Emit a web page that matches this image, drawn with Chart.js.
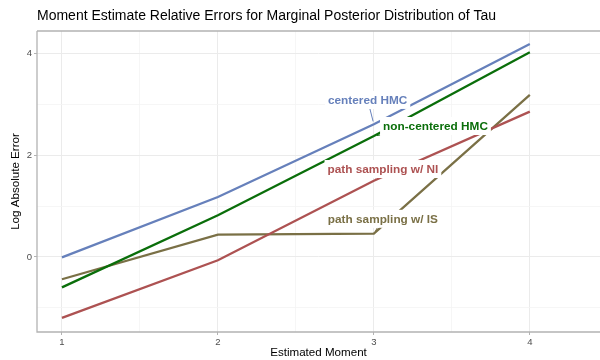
<!DOCTYPE html>
<html>
<head>
<meta charset="utf-8">
<script src="https://cdn.jsdelivr.net/npm/chart.js@4"></script>
<style>
  body { margin: 0; background: #fff; }
  #wrap { width: 600px; height: 360px; }
</style>
</head>
<body>
<div id="wrap"><canvas id="chart"></canvas></div>
<script>
const moments = [1, 2, 3, 4];
const centeredHMC = [-0.01, 1.18, 2.61, 4.19];
const nonCenteredHMC = [-0.6, 0.82, 2.38, 4.03];
const pathSamplingNI = [-1.2, -0.065, 1.5, 2.86];
const pathSamplingIS = [-0.44, 0.44, 0.46, 3.19];

const seriesNames = ['centered HMC', 'non-centered HMC', 'path sampling w/ NI', 'path sampling w/ IS'];
const seriesColors = ['#6680bb', '#0a6e0a', '#ad5252', '#7a7046'];
// label centres (data coords); each label points at the value for moment 3
const labelX = [2.96, 3.395, 3.058, 3.058];
const labelY = [3.09, 2.577, 1.73, 0.75];

const FONT = "'Liberation Sans', Arial, sans-serif";

function toPoints(vals) {
    return vals.map((v, i) => ({ x: moments[i], y: v }));
}

const allSeries = [centeredHMC, nonCenteredHMC, pathSamplingNI, pathSamplingIS];

const decorations = {
    id: 'decorations',
    beforeDatasetsDraw(chart) {
        const { ctx, chartArea: a } = chart;
        ctx.save();
        ctx.strokeStyle = '#b3b3b3';
        ctx.lineWidth = 1.3;
        ctx.beginPath();
        ctx.moveTo(a.left, a.top);
        ctx.lineTo(a.right + 2, a.top);
        ctx.moveTo(a.left, a.top);
        ctx.lineTo(a.left, a.bottom);
        ctx.lineTo(a.right + 2, a.bottom);
        ctx.stroke();
        ctx.restore();
    },
    afterDatasetsDraw(chart) {
        const { ctx, scales } = chart;
        ctx.save();
        ctx.font = 'bold 11.8px ' + FONT;
        ctx.textAlign = 'center';
        ctx.textBaseline = 'middle';
        seriesNames.forEach((name, i) => {
            const cx = scales.x.getPixelForValue(labelX[i]);
            const cy = scales.y.getPixelForValue(labelY[i]);
            const w = ctx.measureText(name).width + 6;
            const h = 18;
            // segment to the point at moment 3
            const px = scales.x.getPixelForValue(moments[2]);
            const py = scales.y.getPixelForValue(allSeries[i][2]);
            const dx = px - cx, dy = py - cy;
            const t = Math.min(Math.abs((w / 2) / (dx || 1e-6)), Math.abs((h / 2) / (dy || 1e-6)));
            if (t < 1) {
                const len = Math.hypot(dx, dy);
                const gap = 3 / len;
                ctx.strokeStyle = seriesColors[i];
                ctx.lineWidth = 1;
                ctx.beginPath();
                ctx.moveTo(cx + dx * t, cy + dy * t);
                ctx.lineTo(cx + dx * (1 - gap), cy + dy * (1 - gap));
                ctx.stroke();
            }
            ctx.fillStyle = '#ffffff';
            ctx.fillRect(cx - w / 2, cy - h / 2, w, h);
            ctx.fillStyle = seriesColors[i];
            ctx.fillText(name, cx, cy + 0.5);
        });
        ctx.restore();
    },
    afterDraw(chart) {
        const { ctx, chartArea: a } = chart;
        ctx.save();
        ctx.fillStyle = '#000';
        ctx.font = '14px ' + FONT;
        ctx.textAlign = 'left';
        ctx.textBaseline = 'alphabetic';
        ctx.fillText('Moment Estimate Relative Errors for Marginal Posterior Distribution of Tau', 37, 20);
        ctx.font = '11.6px ' + FONT;
        ctx.textAlign = 'center';
        ctx.textBaseline = 'middle';
        ctx.fillText('Estimated Moment', (a.left + 600) / 2, 353);
        ctx.translate(16, (a.top + a.bottom) / 2);
        ctx.rotate(-Math.PI / 2);
        ctx.fillText('Log Absolute Error', 0, 0);
        ctx.restore();
    }
};

const isMajorX = v => Math.abs(v - Math.round(v)) < 1e-6;
const isMajorY = v => Math.abs(v % 2) < 1e-6;

new Chart(document.getElementById('chart'), {
    type: 'line',
    data: {
        datasets: allSeries.map((vals, i) => ({
            label: seriesNames[i],
            data: toPoints(vals),
            borderColor: seriesColors[i],
            backgroundColor: seriesColors[i],
            borderWidth: 2.3,
            pointRadius: 0,
            tension: 0
        }))
    },
    options: {
        responsive: true,
        maintainAspectRatio: false,
        animation: false,
        layout: { padding: { top: 31, left: 0, right: 0, bottom: 0 } },
        plugins: {
            legend: { display: false },
            tooltip: { enabled: false }
        },
        scales: {
            x: {
                type: 'linear',
                min: 0.84,
                max: 4.45,
                border: { display: false },
                afterFit(scale) { scale.height = 28; },
                grid: {
                    color: c => isMajorX(c.tick.value) ? '#ebebeb' : '#f4f4f4',
                    lineWidth: c => isMajorX(c.tick.value) ? 1 : 0.8,
                    tickColor: c => isMajorX(c.tick.value) ? '#b3b3b3' : 'rgba(0,0,0,0)',
                    tickLength: 3
                },
                ticks: {
                    stepSize: 0.5,
                    includeBounds: false,
                    autoSkip: false,
                    maxRotation: 0,
                    padding: 1.5,
                    color: '#4d4d4d',
                    font: { family: FONT, size: 9.5 },
                    callback: v => isMajorX(v) ? String(Math.round(v)) : ''
                }
            },
            y: {
                min: -1.478,
                max: 4.447,
                border: { display: false },
                afterFit(scale) { scale.width = 37; },
                grid: {
                    color: c => isMajorY(c.tick.value) ? '#ebebeb' : '#f4f4f4',
                    lineWidth: c => isMajorY(c.tick.value) ? 1 : 0.8,
                    tickColor: c => isMajorY(c.tick.value) ? '#b3b3b3' : 'rgba(0,0,0,0)',
                    tickLength: 3
                },
                ticks: {
                    stepSize: 1,
                    includeBounds: false,
                    autoSkip: false,
                    padding: 2,
                    color: '#4d4d4d',
                    font: { family: FONT, size: 9.5 },
                    callback: v => isMajorY(v) ? String(v) : ''
                }
            }
        }
    },
    plugins: [decorations]
});
</script>
</body>
</html>
